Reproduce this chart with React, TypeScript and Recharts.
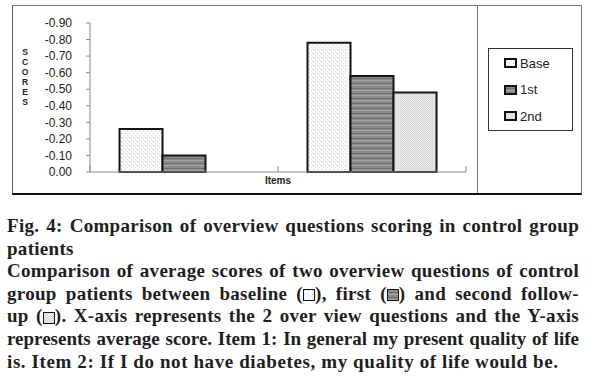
import React from 'react'
import { BarChart, Bar, XAxis, YAxis } from 'recharts'

// Items on the x-axis and the average scores per follow-up
const items = ['Item 1', 'Item 2']
const baseScores = [-0.26, -0.78]
const firstScores = [-0.1, -0.58]
const secondScores: (number | null)[] = [null, -0.48]
const scoreTicks = [-0.9, -0.8, -0.7, -0.6, -0.5, -0.4, -0.3, -0.2, -0.1, 0]

const seriesNames = ['Base', '1st', '2nd']
const seriesFills = ['url(#patBase)', 'url(#patFirst)', 'url(#patSecond)']

const data = items.map((item, i) => ({
  item,
  Base: baseScores[i],
  '1st': firstScores[i],
  '2nd': secondScores[i],
}))

const AXIS_GREY = '#8a8a8a'
const FONT = 'Arial, "Liberation Sans", sans-serif'

// small pattern swatch used in legend and caption
const Swatch = ({ fill, w = 13, h = 10, sw = 2 }: { fill: string; w?: number; h?: number; sw?: number }) => (
  <svg width={w} height={h} style={{ display: 'inline-block', verticalAlign: 'middle' }}>
    <rect x={sw / 2} y={sw / 2} width={w - sw} height={h - sw} fill={fill} stroke="#111" strokeWidth={sw} />
  </svg>
)

// ticks on the category boundaries, pointing up
const BoundaryTick = (props: any) => {
  const { x, y, payload, index } = props
  const half = payload?.offset ?? 94
  return (
    <g>
      {index === 0 && <line x1={x - half} x2={x - half} y1={y - 6} y2={y} stroke={AXIS_GREY} />}
      <line x1={x + half} x2={x + half} y1={y - 6} y2={y} stroke={AXIS_GREY} />
    </g>
  )
}

const line: React.CSSProperties = { whiteSpace: 'nowrap' }
const justified: React.CSSProperties = { ...line, textAlign: 'justify', textAlignLast: 'justify' }

export default function App() {
  return (
    <div style={{ position: 'absolute', left: 0, top: 0, width: 600, height: 389, background: '#fff', overflow: 'hidden' }}>
      {/* figure frame */}
      <div
        style={{
          position: 'absolute',
          left: 12,
          top: 5,
          width: 570,
          height: 190,
          borderTop: '1px solid #777',
          borderLeft: '1px solid #555',
          borderRight: '1px solid #777',
          borderBottom: '2px solid #111',
          boxSizing: 'border-box',
        }}
      />
      <div style={{ position: 'absolute', left: 477, top: 5, width: 1, height: 188, background: '#777' }} />

      {/* stacked y-axis title */}
      <div
        style={{
          position: 'absolute',
          left: 20,
          top: 47,
          width: 10,
          fontFamily: FONT,
          fontSize: 8.5,
          fontWeight: 'bold',
          lineHeight: '10px',
          textAlign: 'center',
          color: '#222',
        }}
      >
        {'SCORES'.split('').map((c, i) => (
          <div key={i}>{c}</div>
        ))}
      </div>

      {/* legend */}
      <div
        style={{
          position: 'absolute',
          left: 488,
          top: 48,
          width: 85,
          height: 83,
          border: '1px solid #333',
          boxSizing: 'border-box',
          paddingTop: 1,
        }}
      >
        {seriesNames.map((name, i) => (
          <div key={name} style={{ display: 'flex', alignItems: 'center', height: 26.5, paddingLeft: 15 }}>
            <Swatch fill={seriesFills[i]} />
            <span style={{ fontFamily: FONT, fontSize: 13, color: '#222', marginLeft: 3 }}>{name}</span>
          </div>
        ))}
      </div>

      <div style={{ position: 'absolute', left: 0, top: 0 }}>
        <BarChart
          width={600}
          height={200}
          data={data}
          margin={{ top: 23, right: 134, left: 0, bottom: 0 }}
          barGap={0}
          barCategoryGap="15.7%"
        >
          <defs>
            <pattern id="patBase" width={4} height={4} patternUnits="userSpaceOnUse">
              <rect width={4} height={4} fill="#fbfbfb" />
              <rect x={1} y={1} width={1} height={1} fill="#c4c4c4" />
              <rect x={3} y={3} width={1} height={1} fill="#dcdcdc" />
            </pattern>
            <pattern id="patFirst" width={4} height={5} patternUnits="userSpaceOnUse">
              <rect width={4} height={5} fill="#8c8c8c" />
              <rect y={0} width={4} height={1} fill="#a6a6a6" />
              <rect y={3} width={4} height={1} fill="#6f6f6f" />
            </pattern>
            <pattern id="patSecond" width={2} height={2} patternUnits="userSpaceOnUse">
              <rect width={2} height={2} fill="#ececec" />
              <rect x={0} y={0} width={1} height={1} fill="#cfcfcf" />
              <rect x={1} y={1} width={1} height={1} fill="#dedede" />
            </pattern>
          </defs>
          <XAxis
            dataKey="item"
            height={28}
            axisLine={{ stroke: AXIS_GREY }}
            tickLine={false}
            tickSize={0}
            tickMargin={0}
            tick={<BoundaryTick />}
            label={{
              value: 'Items',
              position: 'insideTop',
              offset: 5,
              style: { fontFamily: FONT, fontSize: 10, fontWeight: 'bold', fill: '#222' },
            }}
          />
          <YAxis
            type="number"
            domain={[-0.9, 0]}
            reversed
            ticks={scoreTicks}
            interval={0}
            width={90}
            axisLine={{ stroke: AXIS_GREY }}
            tickLine={{ stroke: AXIS_GREY }}
            tickSize={4}
            tickMargin={14}
            tickFormatter={(v: number) => (Math.abs(v) < 1e-9 ? '0.00' : v.toFixed(2))}
            tick={{ fontFamily: FONT, fontSize: 12, fill: '#222' }}
          />
          {seriesNames.map((name, i) => (
            <Bar
              key={name}
              dataKey={name}
              fill={seriesFills[i]}
              stroke="#151515"
              strokeWidth={2}
              isAnimationActive={false}
            />
          ))}
        </BarChart>
      </div>

      {/* caption */}
      <div
        style={{
          position: 'absolute',
          left: 7,
          top: 215,
          width: 572,
          fontFamily: '"Liberation Serif", "DejaVu Serif", serif',
          fontWeight: 'bold',
          fontSize: 19,
          letterSpacing: 0.3,
          lineHeight: '22.6px',
          color: '#1e1e1e',
        }}
      >
        <div style={justified}>Fig. 4: Comparison of overview questions scoring in control group</div>
        <div style={line}>patients</div>
        <div style={justified}>Comparison of average scores of two overview questions of control</div>
        <div style={justified}>
          group patients between baseline (<Swatch fill="url(#patBase)" w={12} h={12} sw={1} />), first (
          <Swatch fill="url(#patFirst)" w={12} h={12} sw={1} />) and second follow-
        </div>
        <div style={justified}>
          up (<Swatch fill="url(#patSecond)" w={12} h={12} sw={1} />). X-axis represents the 2 over view questions and the Y-axis
        </div>
        <div style={{ ...justified, letterSpacing: 0 }}>
          represents average score. Item 1: In general my present quality of life
        </div>
        <div style={{ ...line, letterSpacing: 0.6 }}>
          is. Item 2: If I do not have diabetes, my quality of life would be.
        </div>
      </div>
    </div>
  )
}
